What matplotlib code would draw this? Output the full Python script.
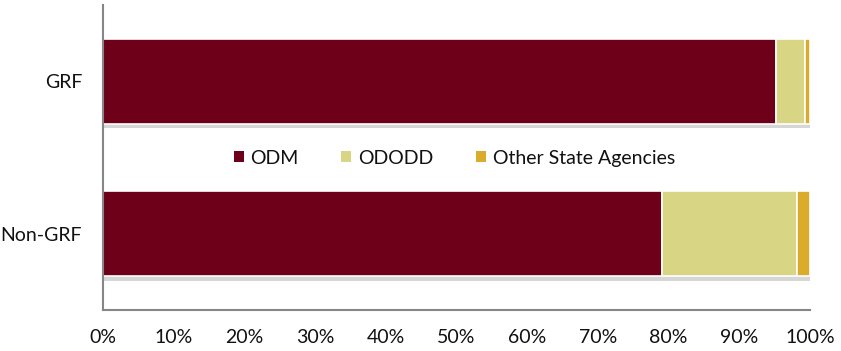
import matplotlib
matplotlib.use('Agg')
import matplotlib.pyplot as plt
import matplotlib.patheffects as pe
from matplotlib.patches import Patch
from matplotlib.ticker import PercentFormatter

plt.rcParams['font.family'] = ['Lato', 'DejaVu Sans']

categories = ['Non-GRF', 'GRF']
series_names = ['ODM', 'ODODD', 'Other State Agencies']
odm = [79.1, 95.2]
ododd = [19.1, 4.1]
other = [1.8, 0.7]
colors = ['#6F0019', '#D8D585', '#DBAB2B']

fig = plt.figure(figsize=(8.41, 3.51), dpi=100)
ax = fig.add_axes([0.1225, 0.1168, 0.8406, 0.869])

shadow = [pe.SimplePatchShadow(offset=(0, -3), shadow_rgbFace='#999999', alpha=0.4), pe.Normal()]
left = [0.0, 0.0]
for name, vals, col in zip(series_names, [odm, ododd, other], colors):
    bars = ax.barh(categories, vals, left=left, height=0.56, color=col,
                   edgecolor='white', linewidth=1.2)
    for b in bars:
        b.set_path_effects(shadow)
    left = [l + v for l, v in zip(left, vals)]

ax.set_xlim(0, 100)
ax.set_ylim(-0.5, 1.5)
ax.xaxis.set_major_formatter(PercentFormatter(decimals=0))
ax.set_xticks(range(0, 101, 10))
ax.tick_params(axis='both', length=0, labelsize=14, colors='#111111')
ax.tick_params(axis='x', pad=14)
ax.tick_params(axis='y', pad=15)

for s in ['top', 'right']:
    ax.spines[s].set_visible(False)
for s in ['left', 'bottom']:
    ax.spines[s].set_color('#868686')
    ax.spines[s].set_linewidth(1.5)

handles = [Patch(facecolor=c, edgecolor='none') for c in colors]
ax.legend(handles, series_names, loc='center', bbox_to_anchor=(0.497, 0.498), ncol=3,
          frameon=False, fontsize=14, handlelength=0.5, handleheight=0.5,
          handletextpad=0.35, columnspacing=2.2, labelcolor='#111111')

fig.savefig('out.png', dpi=100)
